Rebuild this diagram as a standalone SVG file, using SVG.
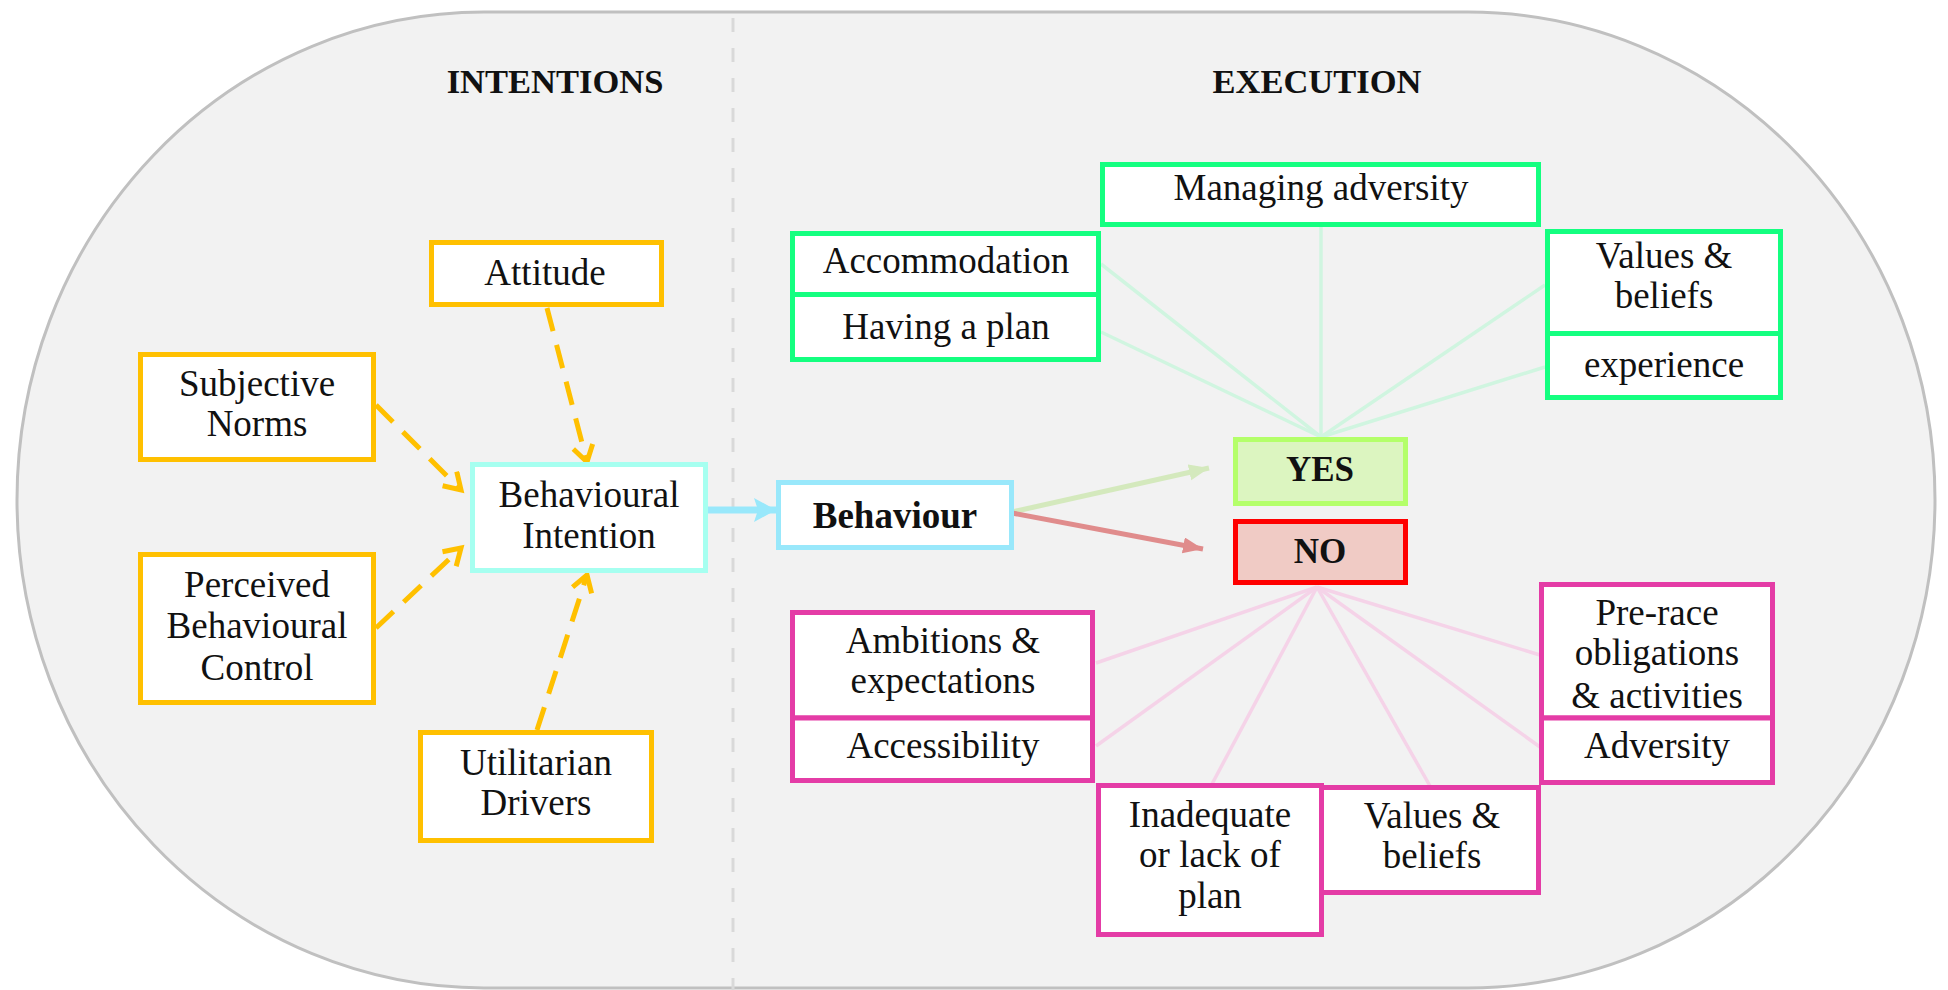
<svg xmlns="http://www.w3.org/2000/svg" width="1948" height="990" viewBox="0 0 1948 990">
<defs>
<style>
.t{font-family:"Liberation Serif","Times New Roman",serif;font-size:37px;fill:#111;text-anchor:middle}
.b{font-weight:bold}
.h{font-family:"Liberation Serif","Times New Roman",serif;font-size:34.5px;font-weight:bold;fill:#111;text-anchor:middle}
.or{fill:#fff;stroke:#ffc000;stroke-width:5}
.gr{fill:#fff;stroke:#14ff80;stroke-width:5}
.pk{fill:#fff;stroke:#e43ca6;stroke-width:5}
.cy{fill:#fff;stroke:#a6fff0;stroke-width:5}
.bl{fill:#fff;stroke:#99e8fb;stroke-width:5}
.dash{fill:none;stroke:#ffc000;stroke-width:5;stroke-dasharray:24 14}
.gl{stroke:#d0f5e0;stroke-width:3.5;fill:none}
.pl{stroke:#f5d3e8;stroke-width:3.5;fill:none}
</style>
<marker id="ao" markerUnits="userSpaceOnUse" markerWidth="30" markerHeight="30" refX="20" refY="12" orient="auto">
<path d="M4,2 L20,12 L4,22" fill="none" stroke="#ffc000" stroke-width="5" stroke-dasharray="none"/>
</marker>
<marker id="ag" markerUnits="userSpaceOnUse" markerWidth="24" markerHeight="20" refX="20" refY="8" orient="auto">
<path d="M0,0 L20,8 L0,16 z" fill="#d4e9bd"/>
</marker>
<marker id="ar" markerUnits="userSpaceOnUse" markerWidth="24" markerHeight="20" refX="20" refY="8" orient="auto">
<path d="M0,0 L20,8 L0,16 z" fill="#e08c8c"/>
</marker>
<marker id="ab" markerUnits="userSpaceOnUse" markerWidth="26" markerHeight="28" refX="22" refY="12" orient="auto">
<path d="M0,0 L22,12 L0,24 L4,12 z" fill="#99e8fb"/>
</marker>
</defs>
<rect x="17" y="12" width="1918" height="976" rx="467" ry="488" fill="#f2f2f2" stroke="#c0c0c0" stroke-width="3"/>
<line x1="733" y1="18" x2="733" y2="990" stroke="#d9d9d9" stroke-width="3" stroke-dasharray="14 16"/>
<text class="h" x="555" y="93">INTENTIONS</text>
<text class="h" x="1317" y="93">EXECUTION</text>
<g id="connectors">
<line class="dash" x1="547" y1="308" x2="587" y2="462" marker-end="url(#ao)"/>
<line class="dash" x1="376" y1="405" x2="461" y2="490" marker-end="url(#ao)"/>
<line class="dash" x1="376" y1="628" x2="461" y2="548" marker-end="url(#ao)"/>
<line class="dash" x1="537" y1="730" x2="587" y2="575" marker-end="url(#ao)"/>
<line x1="708" y1="510" x2="776" y2="510" stroke="#99e8fb" stroke-width="7" marker-end="url(#ab)"/>
<line x1="1012" y1="512" x2="1209" y2="468" stroke="#d4e9bd" stroke-width="5" marker-end="url(#ag)"/>
<line x1="1012" y1="513" x2="1203" y2="549" stroke="#e08c8c" stroke-width="5" marker-end="url(#ar)"/>
<line class="gl" x1="1321" y1="437" x2="1321" y2="227"/>
<line class="gl" x1="1321" y1="437" x2="1101" y2="264"/>
<line class="gl" x1="1321" y1="437" x2="1101" y2="332"/>
<line class="gl" x1="1321" y1="437" x2="1545" y2="285"/>
<line class="gl" x1="1321" y1="437" x2="1545" y2="367"/>
<line class="pl" x1="1317" y1="587" x2="1096" y2="663"/>
<line class="pl" x1="1317" y1="587" x2="1096" y2="746"/>
<line class="pl" x1="1317" y1="587" x2="1212" y2="784"/>
<line class="pl" x1="1317" y1="587" x2="1430" y2="786"/>
<line class="pl" x1="1317" y1="587" x2="1540" y2="747"/>
<line class="pl" x1="1317" y1="587" x2="1540" y2="655"/>
</g>
<g id="attitude"><rect class="or" x="431.5" y="242.5" width="230" height="62"/><text class="t" x="545" y="285">Attitude</text></g>
<g id="subjective-norms"><rect class="or" x="140.5" y="354.5" width="233" height="105"/><text class="t" x="257" y="396">Subjective</text><text class="t" x="257" y="436">Norms</text></g>
<g id="pbc"><rect class="or" x="140.5" y="554.5" width="233" height="148"/><text class="t" x="257" y="597">Perceived</text><text class="t" x="257" y="638">Behavioural</text><text class="t" x="257" y="680">Control</text></g>
<g id="utilitarian"><rect class="or" x="420.5" y="732.5" width="231" height="108"/><text class="t" x="536" y="775">Utilitarian</text><text class="t" x="536" y="815">Drivers</text></g>
<g id="behavioural-intention"><rect class="cy" x="472.5" y="464.5" width="233" height="106"/><text class="t" x="589" y="507">Behavioural</text><text class="t" x="589" y="548">Intention</text></g>
<g id="behaviour"><rect class="bl" x="778.5" y="482.5" width="233" height="65"/><text class="t b" x="895" y="528">Behaviour</text></g>
<g id="yes"><rect x="1235.5" y="439.5" width="170" height="64" fill="#dcf5c0" stroke="#b4ff6a" stroke-width="5"/><text class="t b" x="1320" y="481" style="font-size:35px">YES</text></g>
<g id="no"><rect x="1235.5" y="521.5" width="170" height="61" fill="#f0cbc5" stroke="#ff0000" stroke-width="5"/><text class="t b" x="1320" y="563" style="font-size:35px">NO</text></g>
<g id="managing-adversity"><rect class="gr" x="1102.5" y="164.5" width="436" height="60"/><text class="t" x="1321" y="200">Managing adversity</text></g>
<g id="accommodation"><rect class="gr" x="792.5" y="233.5" width="306" height="61"/><text class="t" x="946" y="273">Accommodation</text></g>
<g id="having-a-plan"><rect class="gr" x="792.5" y="294.5" width="306" height="65"/><text class="t" x="946" y="339">Having a plan</text></g>
<g id="values-beliefs-yes"><rect class="gr" x="1547.5" y="231.5" width="233" height="102"/><text class="t" x="1664" y="268">Values &amp;</text><text class="t" x="1664" y="308">beliefs</text></g>
<g id="experience"><rect class="gr" x="1547.5" y="333.5" width="233" height="64"/><text class="t" x="1664" y="377">experience</text></g>
<g id="ambitions"><rect class="pk" x="792.5" y="612.5" width="300" height="105.5"/><text class="t" x="943" y="653">Ambitions &amp;</text><text class="t" x="943" y="693">expectations</text></g>
<g id="accessibility"><rect class="pk" x="792.5" y="718" width="300" height="62.5"/><text class="t" x="943" y="758">Accessibility</text></g>
<g id="inadequate-plan"><rect class="pk" x="1098.5" y="785.5" width="223" height="149"/><text class="t" x="1210" y="827">Inadequate</text><text class="t" x="1210" y="867">or lack of</text><text class="t" x="1210" y="908">plan</text></g>
<g id="values-beliefs-no"><rect class="pk" x="1321.5" y="787.5" width="217" height="105"/><text class="t" x="1432" y="828">Values &amp;</text><text class="t" x="1432" y="868">beliefs</text></g>
<g id="pre-race"><rect class="pk" x="1541.5" y="584.5" width="231" height="133.5"/><text class="t" x="1657" y="625">Pre-race</text><text class="t" x="1657" y="665">obligations</text><text class="t" x="1657" y="708">&amp; activities</text></g>
<g id="adversity"><rect class="pk" x="1541.5" y="718" width="231" height="64.5"/><text class="t" x="1657" y="758">Adversity</text></g>
</svg>
